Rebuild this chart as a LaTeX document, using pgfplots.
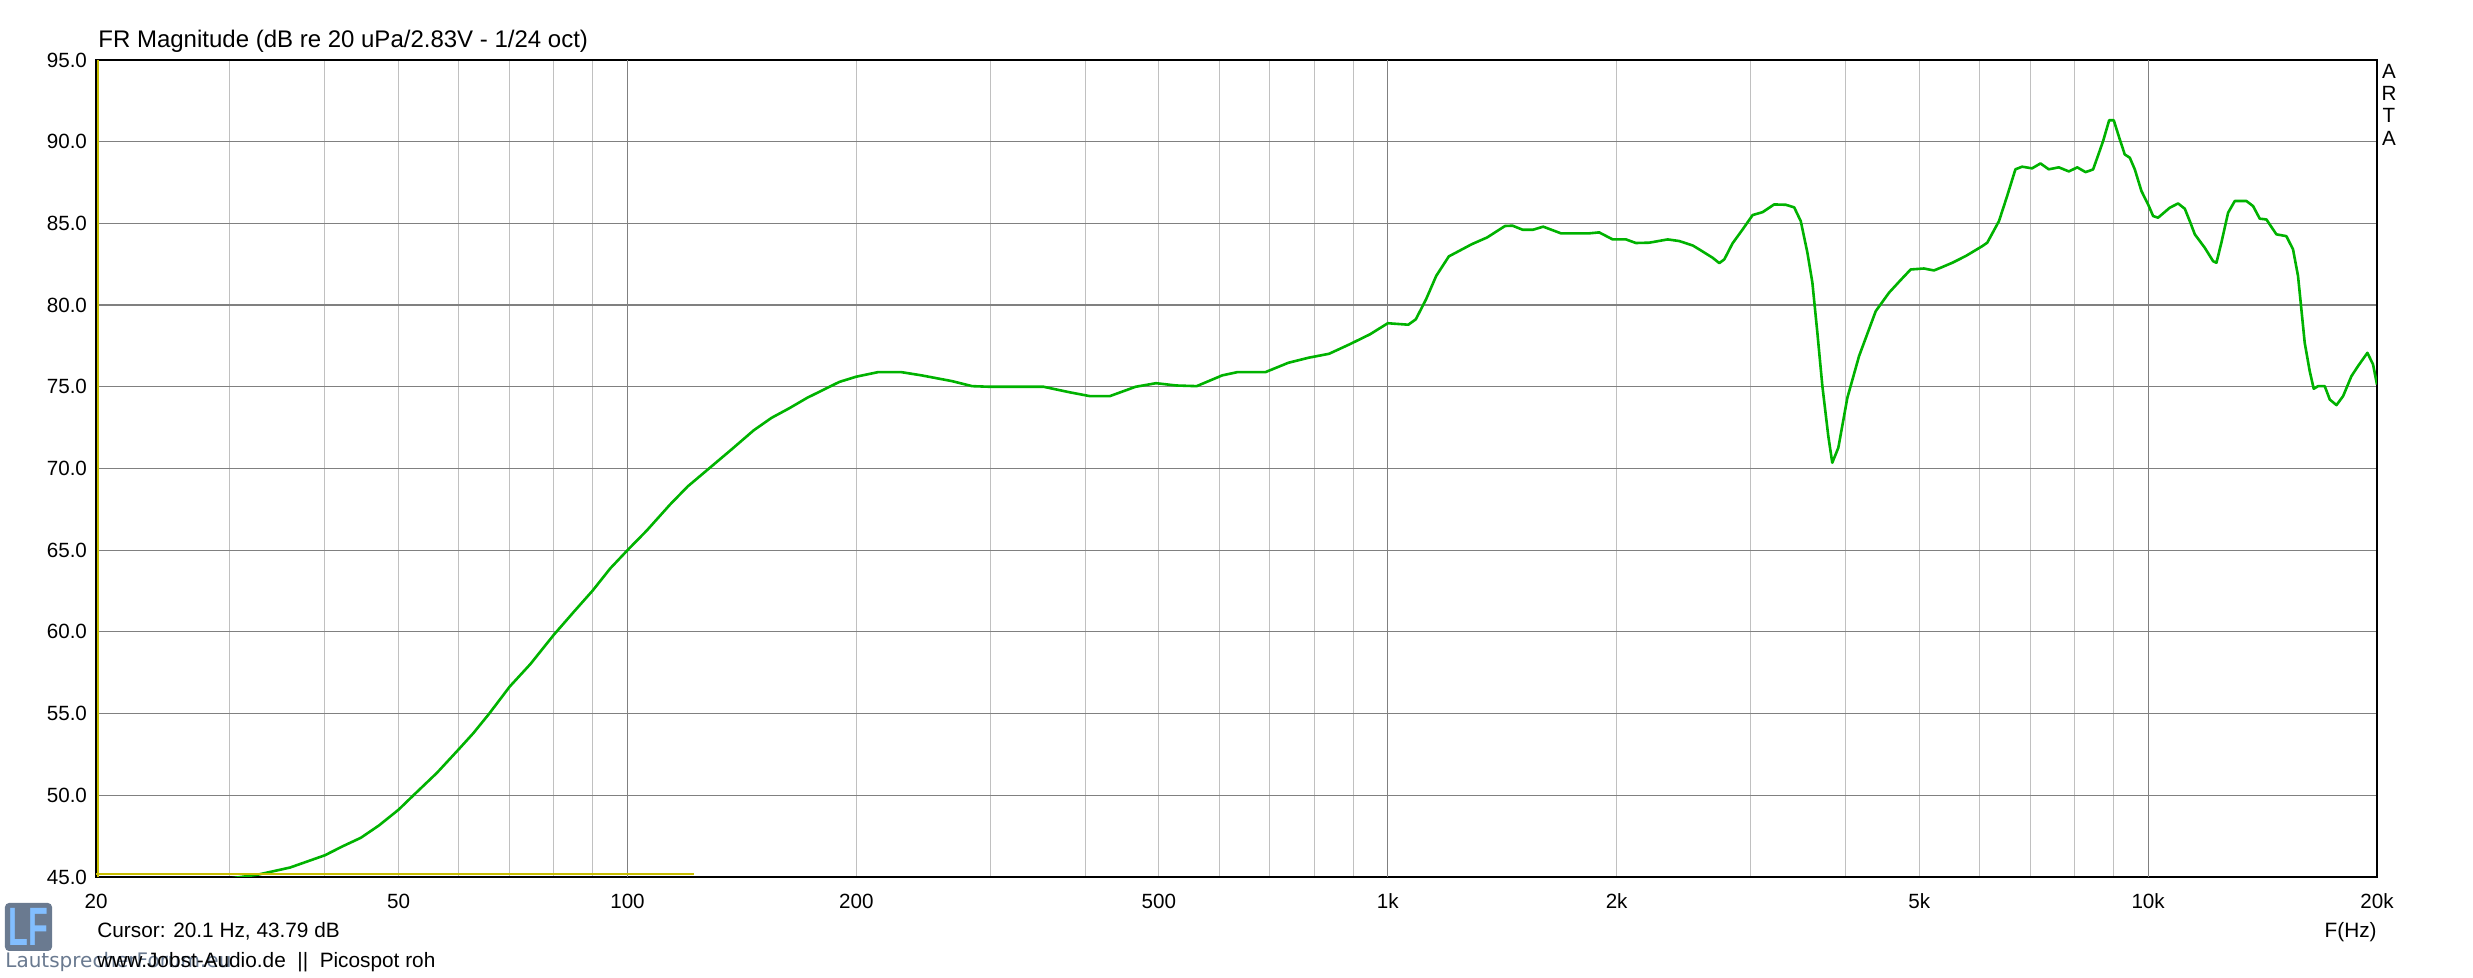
\documentclass[border=0pt]{standalone}
\usepackage{fontspec}
\setmainfont{Liberation Sans}
\newfontfamily\wmfont{DejaVu Sans}
\usepackage{graphicx}
\usepackage{pgfplots}
\pgfplotsset{compat=1.18}

\definecolor{frgreen}{RGB}{0,178,0}
\definecolor{gmaj}{RGB}{128,128,128}
\definecolor{gmin}{RGB}{192,192,192}
\definecolor{cursorcol}{RGB}{200,190,0}
\definecolor{lfbox}{RGB}{106,122,144}
\definecolor{lfletter}{RGB}{130,190,255}

% FR magnitude, 1/24 oct smoothed (Hz, dB)
\pgfplotstableread{
f dB
20 43.79
25 44.3
29 44.8
31.0 45.0
32.7 45.15
36.0 45.58
40 46.33
42.3 46.9
44.6 47.40
47.1 48.15
50 49.12
52.3 50.0
56.15 51.37
60 52.82
62.7 53.8
65.8 55.0
70 56.65
74.5 58.02
80 59.82
84.9 61.2
90 62.53
94.9 63.88
100 65.0
106.0 66.2
113.8 67.8
120 68.9
128 70.0
137 71.16
146.6 72.34
154.7 73.1
163.3 73.69
172.4 74.33
182 74.87
190 75.3
200 75.62
213.7 75.9
229 75.9
243.6 75.7
267 75.35
284 75.04
300 75.0
352.8 75.0
381 74.67
405.5 74.43
431 74.43
465.8 75.0
495.6 75.22
527 75.08
560.6 75.04
605.8 75.7
634.5 75.9
690.6 75.9
740 76.47
787 76.78
837 77.02
890.8 77.6
947.4 78.21
1000 78.89
1064 78.8
1088.6 79.13
1123 80.36
1158 81.79
1203 82.98
1290 83.73
1351 84.14
1426 84.84
1459 84.86
1505 84.61
1552 84.61
1601 84.8
1690 84.39
1839 84.39
1897 84.45
1976 84.02
2057 84.02
2120 83.8
2208 83.82
2334 84.02
2417 83.92
2518 83.65
2568 83.41
2674 82.9
2729 82.57
2771 82.8
2841 83.78
2929 84.63
3019 85.51
3112 85.69
3222 86.16
3338 86.14
3424 85.98
3493 85.14
3564 83.2
3618 81.37
3673 78.31
3729 75.04
3797 71.98
3843 70.35
3914 71.27
4022 74.33
4167 76.88
4383 79.63
4563 80.76
4726 81.53
4872 82.18
5072 82.24
5228 82.12
5362 82.33
5527 82.59
5755 83.0
6053 83.61
6144 83.82
6366 85.14
6525 86.67
6691 88.31
6828 88.47
7038 88.37
7218 88.67
7402 88.31
7631 88.43
7867 88.18
8069 88.43
8274 88.14
8465 88.3
8600 89.2
8726 90.04
8887 91.31
9012 91.31
9178 90.14
9317 89.22
9460 89.02
9604 88.31
9800 86.98
10000 86.16
10153 85.45
10307 85.35
10678 85.96
10951 86.22
11174 85.9
11345 85.14
11519 84.33
11871 83.51
12175 82.69
12299 82.59
12484 83.82
12740 85.65
13001 86.37
13467 86.37
13742 86.06
14023 85.29
14309 85.24
14748 84.33
15200 84.22
15510 83.41
15747 81.78
15907 79.74
16069 77.69
16314 75.96
16514 74.88
16732 75.04
17073 75.04
17336 74.22
17690 73.88
18051 74.43
18510 75.65
18888 76.27
19429 77.08
19764 76.37
20000 75.14
}\frdata

\begin{document}
\begin{tikzpicture}
\begin{axis}[
  at={(0,0)}, anchor=south west,
  scale only axis, width=1140.5pt, height=408.5pt,
  xmode=log, xmin=20, xmax=20000, ymin=45, ymax=95,
  xtick={20,50,100,200,500,1000,2000,5000,10000,20000},
  xticklabels={20,50,100,200,500,1k,2k,5k,10k,20k},
  minor xtick={30,40,60,70,80,90,300,400,600,700,800,900,3000,4000,6000,7000,8000,9000},
  extra x ticks={100,1000,10000},
  extra x tick labels={},
  extra x tick style={major x grid style={gmaj, line width=0.6pt}},
  ytick={45,50,...,95},
  /pgf/number format/assume math mode=true,
  yticklabel style={/pgf/number format/fixed, /pgf/number format/fixed zerofill,
    /pgf/number format/precision=1, xshift=-1pt},
  tick label style={font=\fontsize{10.3}{12}\selectfont},
  xticklabel style={yshift=-5pt},
  major tick length=0pt, minor tick length=0pt,
  xmajorgrids=true, xminorgrids=true, ymajorgrids=true,
  major x grid style={gmin, line width=0.5pt},
  minor x grid style={gmin, line width=0.5pt},
  major y grid style={gmaj, line width=0.6pt},
  axis line style={black, line width=0.75pt},
]
\addplot[frgreen, line width=1.3pt, line join=round] table[x=f, y=dB] {\frdata};
\addplot[cursorcol, line width=1pt] coordinates {(20.1,45) (20.1,95)};
\addplot[cursorcol, line width=1.1pt] coordinates {(20,45.17) (122.4,45.17)};
\end{axis}

\node[anchor=base west, inner sep=0, font=\fontsize{12}{14}\selectfont] at (1pt,414.5pt) {FR Magnitude (dB re 20 uPa/2.83V - 1/24 oct)};

\foreach \c/\yy in {A/399pt, R/388pt, T/377pt, A/365.5pt}
  \node[anchor=base, inner sep=0, font=\fontsize{10.3}{12}\selectfont] at (1146.5pt,\yy) {\c};

\node[anchor=base west, inner sep=0, font=\fontsize{10.4}{12}\selectfont] at (0.5pt,-30.5pt) {Cursor: 20.1 Hz, 43.79 dB};
\node[anchor=base east, inner sep=0, font=\fontsize{10.4}{12}\selectfont] at (1140.5pt,-30.5pt) {F(Hz)};

% LF logo
\fill[lfbox, rounded corners=2pt] (-45.5pt,-37pt) rectangle (-22pt,-13pt);
\node[lfletter, inner sep=0, font=\bfseries\fontsize{27}{27}\selectfont] at (-33.75pt,-25pt) {\scalebox{0.6}[1]{LF}};
\node[anchor=base west, inner sep=0, text=lfbox, font=\wmfont\fontsize{10}{12}\selectfont] at (-45.5pt,-45.5pt) {LautsprecherForum.eu};

\node[anchor=base west, inner sep=0, font=\fontsize{10.4}{12}\selectfont] at (0.5pt,-45.5pt) {www.Jobst-Audio.de\ \ ||\ \ Picospot roh};

\pgfresetboundingbox
\path[use as bounding box] (-48pt,-50.5pt) rectangle (1188.5pt,438.5pt);
\end{tikzpicture}
\end{document}
